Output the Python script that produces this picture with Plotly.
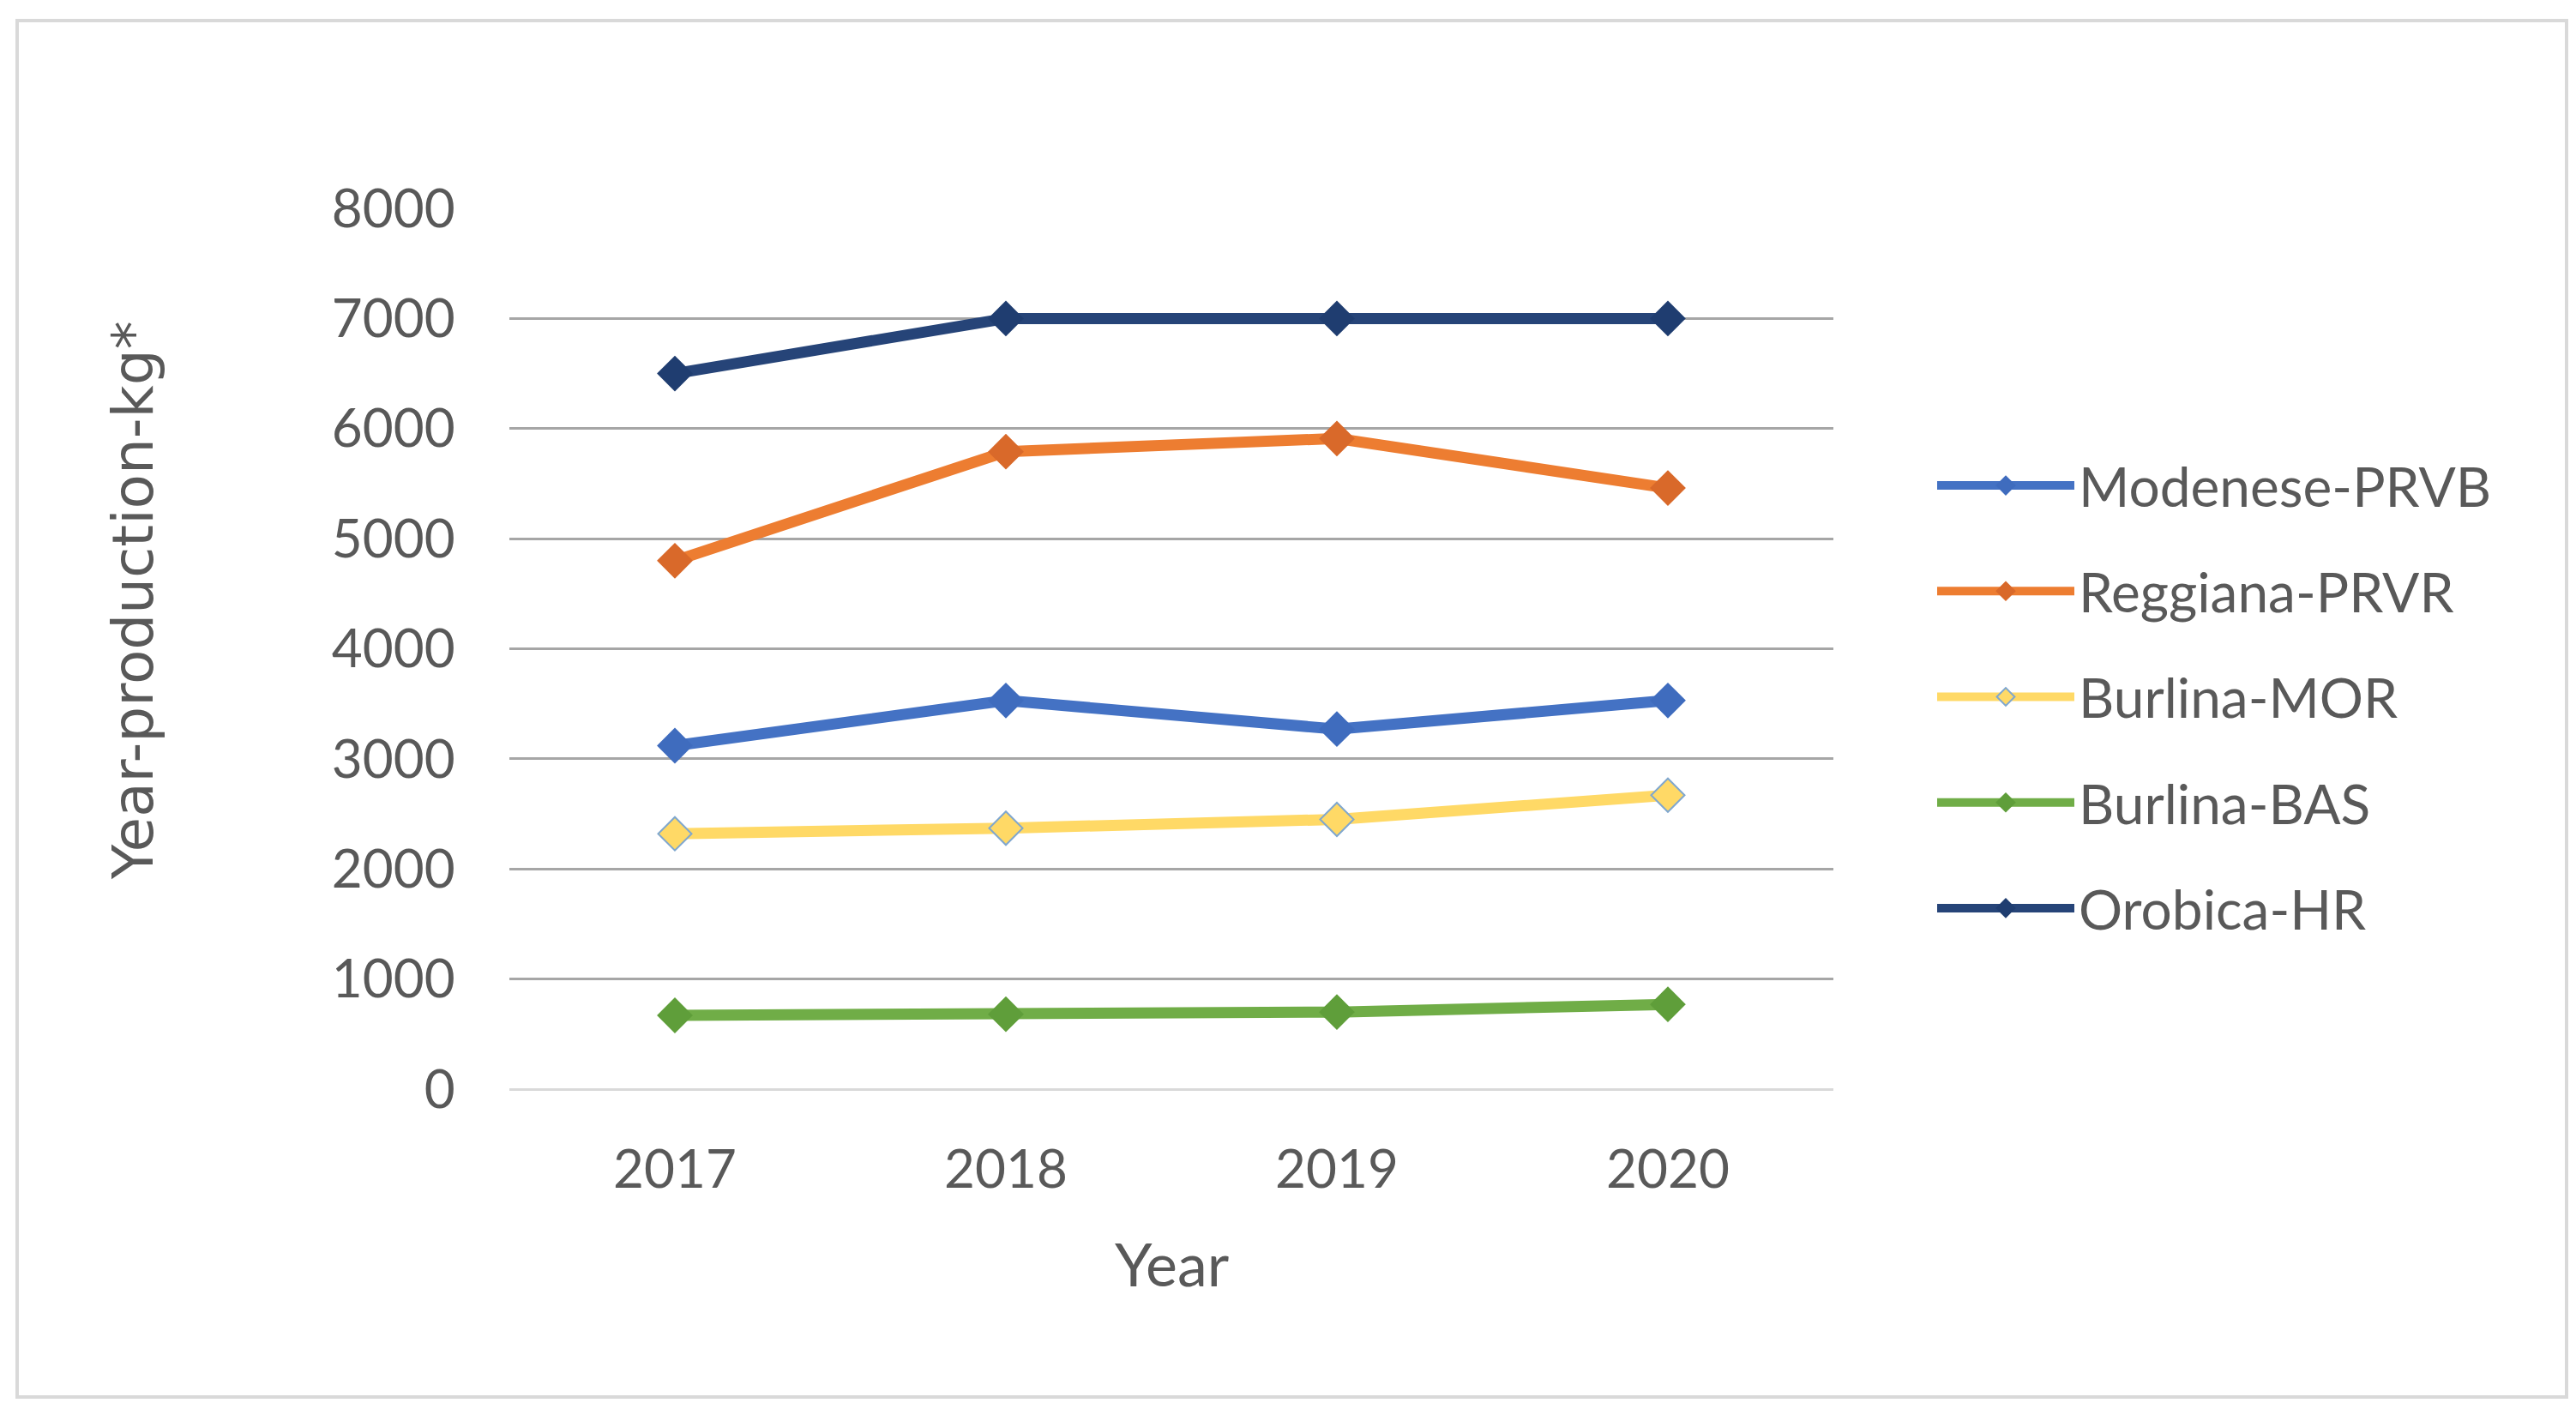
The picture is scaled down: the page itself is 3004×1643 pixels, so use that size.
import plotly.graph_objects as go

years = ["2017", "2018", "2019", "2020"]
series_names = ["Modenese-PRVB", "Reggiana-PRVR", "Burlina-MOR", "Burlina-BAS", "Orobica-HR"]
modenese = [3120, 3530, 3270, 3530]
reggiana = [4800, 5790, 5910, 5460]
burlina_mor = [2320, 2370, 2450, 2670]
burlina_bas = [670, 680, 700, 770]
orobica = [6500, 7000, 7000, 7000]
y_ticks = [0, 1000, 2000, 3000, 4000, 5000, 6000, 7000, 8000]

values = [modenese, reggiana, burlina_mor, burlina_bas, orobica]
line_colors = ["#4472C4", "#ED7D31", "#FFD966", "#70AD47", "#264478"]
marker_colors = ["#3F6CBE", "#D9692A", "#FFD966", "#5F9E3A", "#1F3D70"]
marker_lines = ["#3F6CBE", "#D9692A", "#7FA7CF", "#5F9E3A", "#1F3D70"]

W, H = 3004, 1643
L, R, T, B = 586, 874, 235, 381
pw, ph = W - L - R, H - T - B

fig = go.Figure()
for name, vals, lc, mc, ml in zip(series_names, values, line_colors, marker_colors, marker_lines):
    fig.add_trace(go.Scatter(
        x=years, y=vals, name=name, legendgroup=name, mode="lines+markers",
        line=dict(color=lc, width=13),
        marker=dict(symbol="diamond", size=30, color=mc, line=dict(color=ml, width=2)),
    ))

def px(xp):
    return (xp - L) / pw

def py(yp):
    return (H - B - yp) / ph

fig.update_layout(
    width=W, height=H,
    margin=dict(l=L, r=R, t=T, b=B),
    paper_bgcolor="white", plot_bgcolor="white",
    font=dict(family="Lato", color="#595959", size=62),
    showlegend=True,
    legend=dict(
        x=px(2246), y=py(510), xanchor="left", yanchor="top",
        font=dict(family="Lato", size=64, color="#595959"),
        tracegroupgap=37, itemwidth=160, bgcolor="rgba(0,0,0,0)",
    ),
    xaxis=dict(
        type="category", range=[-0.5, 3.5], showgrid=False, zeroline=False,
        showline=False, ticks="outside", ticklen=40, tickcolor="rgba(0,0,0,0)",
        tickfont=dict(family="Lato", size=62, color="#595959"),
    ),
    yaxis=dict(
        range=[0, 8000], tickvals=y_ticks, showgrid=True, gridcolor="#A6A6A6",
        gridwidth=3, zeroline=True, zerolinecolor="#D9D9D9", zerolinewidth=3,
        showline=False, ticks="outside", ticklen=50, tickcolor="rgba(0,0,0,0)",
        tickfont=dict(family="Lato", size=62, color="#595959"),
    ),
    annotations=[
        dict(text="Year-production-kg*", xref="paper", yref="paper",
             x=px(147), y=py(692), textangle=-90, showarrow=False,
             font=dict(family="DejaVu Sans", size=66, color="#595959"),
             xanchor="center", yanchor="middle"),
        dict(text="Year", xref="paper", yref="paper",
             x=px(1358), y=py(1465), showarrow=False,
             font=dict(family="Lato", size=70, color="#595959"),
             xanchor="center", yanchor="middle"),
    ],
    shapes=[
        dict(type="rect", xref="paper", yref="paper",
             x0=px(12), x1=px(2985), y0=py(1621), y1=py(16),
             line=dict(color="#D9D9D9", width=4), fillcolor="rgba(0,0,0,0)", layer="below"),
    ],
)

fig.write_html("out.html")
